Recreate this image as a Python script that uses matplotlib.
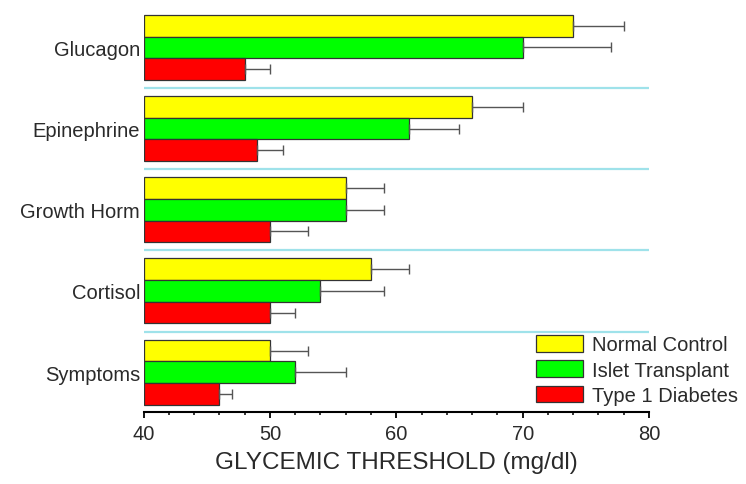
import matplotlib
matplotlib.use("Agg")
import matplotlib.pyplot as plt
import numpy as np
from matplotlib.ticker import MultipleLocator

categories = ["Glucagon", "Epinephrine", "Growth Horm", "Cortisol", "Symptoms"]
series = ["Normal Control", "Islet Transplant", "Type 1 Diabetes"]
normal = [74, 66, 56, 58, 50]
normal_err = [4, 4, 3, 3, 3]
islet = [70, 61, 56, 54, 52]
islet_err = [7, 4, 3, 5, 4]
t1d = [48, 49, 50, 50, 46]
t1d_err = [2, 2, 3, 2, 1]

colors = ["#ffff00", "#00ff00", "#ff0000"]
values = [normal, islet, t1d]
errors = [normal_err, islet_err, t1d_err]

plt.rcParams['font.family'] = ['Liberation Sans', 'DejaVu Sans']
fig = plt.figure(figsize=(7.46, 4.85), dpi=100)
ax = fig.add_axes([0.1924, 0.1485, 0.870 - 0.1924, 0.984 - 0.1485])

base = 40
h = 0.8 / 3
y = np.arange(len(categories))
for k in range(3):
    vals = np.array(values[k])
    errs = np.array(errors[k])
    pos = y + (k - 1) * h
    ax.barh(pos, vals - base, left=base, height=h, color=colors[k],
            edgecolor="#333333", linewidth=0.9, label=series[k], zorder=2)
    ax.errorbar(vals, pos, xerr=[np.zeros_like(errs), errs], fmt='none',
                ecolor="#555555", elinewidth=1.0, capsize=3.5, capthick=1.0, zorder=3)

ax.hlines(y[:-1] + 0.5, 40, 80, colors="#9fe2ea", linewidth=1.6, zorder=1)

ax.set_xlim(40, 80)
ax.set_ylim(4.49, -0.5)
ax.set_yticks(y)
ax.set_yticklabels(categories)
ax.xaxis.set_major_locator(MultipleLocator(10))
ax.xaxis.set_minor_locator(MultipleLocator(2))
for s in ["top", "right", "left"]:
    ax.spines[s].set_visible(False)
ax.spines["bottom"].set_linewidth(1.5)
ax.tick_params(axis='y', length=0, pad=2.5, labelsize=14.5, labelcolor="#2a2a2a")
ax.tick_params(axis='x', which='major', length=4.5, width=1.3, direction='out', pad=4,
               labelsize=14.5, labelcolor="#2a2a2a")
ax.tick_params(axis='x', which='minor', length=2.5, width=1.1, direction='out')
ax.set_xlabel("GLYCEMIC THRESHOLD (mg/dl)", fontsize=17.5, color="#2a2a2a", labelpad=6)

leg = fig.legend(loc='upper left', bbox_to_anchor=(536 / 746, 1 - 336 / 485),
                 frameon=False, borderpad=0, borderaxespad=0, fontsize=14.5,
                 handlelength=2.35, handleheight=0.9, handletextpad=0.45,
                 labelspacing=0.3)
for t in leg.get_texts():
    t.set_color("#2a2a2a")

fig.savefig("out.png", dpi=100)
